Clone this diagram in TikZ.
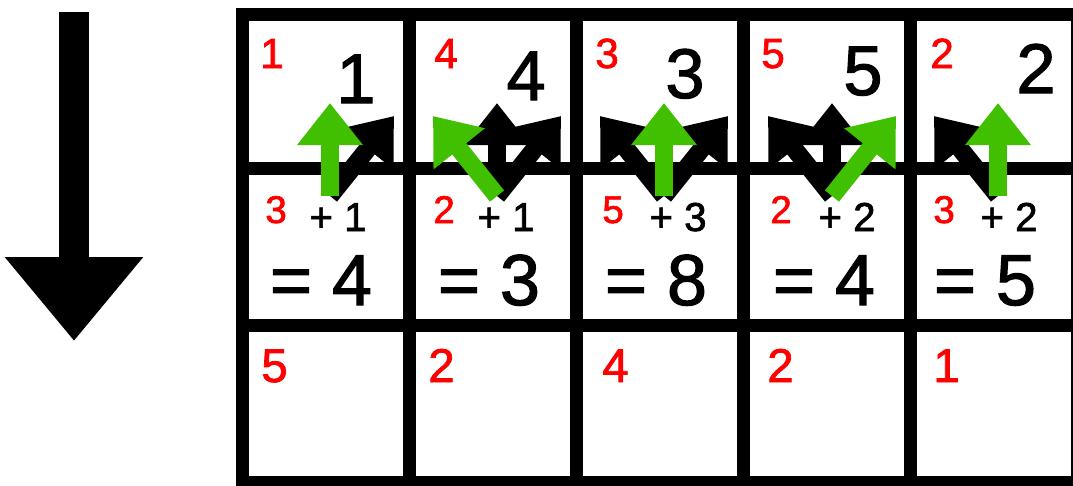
\documentclass[tikz,border=0pt]{standalone}
\usepackage{fontspec}
\setmainfont{Liberation Sans}
\newfontfamily\gridfont{Liberation Sans}[FakeBold=1.6]
\usetikzlibrary{arrows.meta}
\definecolor{pathgreen}{RGB}{64,192,0}
\definecolor{costred}{RGB}{255,0,0}

\begin{document}
\begin{tikzpicture}[
    x=0.02cm, y=-0.02cm,
    cell/.style={draw, line width=0.26cm, minimum width=3.34cm, inner sep=0pt, outer sep=0pt},
    toprow/.style={cell, minimum height=3.08cm},
    lowrow/.style={cell, minimum height=3.14cm},
    cost/.style={inner sep=0pt, anchor=base west, text=costred, font=\gridfont\fontsize{#1}{#1}\selectfont},
    height/.style={inner sep=0pt, anchor=base, font=\gridfont\fontsize{40}{40}\selectfont},
    plus/.style={inner sep=0pt, anchor=base, font=\gridfont\fontsize{23}{23}\selectfont},
    total/.style={inner sep=0pt, anchor=base, font=\gridfont\fontsize{41}{41}\selectfont},
    move/.style={draw, line width=0.36cm, -{Triangle[width=1.26cm, length=0.84cm]}},
    best/.style={move, color=pathgreen}
    ]
    \useasboundingbox (0,0) rectangle (1073,485);
    \clip (0,0) rectangle (1073,485);

    % direction of the rows
    \coordinate (flowtop) at (74,12);
    \coordinate (flowend) at (74,341);
    \draw [line width=0.6cm, -{Triangle[width=2.66cm, length=1.68cm]}] (flowtop) -- (flowend);

    % grid
    \node [toprow] (t1) at (326,91.5) {};
    \node [toprow] (t2) at (493,91.5) {};
    \node [toprow] (t3) at (660,91.5) {};
    \node [toprow] (t4) at (827,91.5) {};
    \node [toprow] (t5) at (994,91.5) {};
    \node [lowrow] (m1) at (326,247) {};
    \node [lowrow] (m2) at (493,247) {};
    \node [lowrow] (m3) at (660,247) {};
    \node [lowrow] (m4) at (827,247) {};
    \node [lowrow] (m5) at (994,247) {};
    \node [lowrow] (b1) at (326,404) {};
    \node [lowrow] (b2) at (493,404) {};
    \node [lowrow] (b3) at (660,404) {};
    \node [lowrow] (b4) at (827,404) {};
    \node [lowrow] (b5) at (994,404) {};

    % first row
    \node [cost=24] (tc1) at (260,68) {1};
    \node [cost=24] (tc2) at (434,68) {4};
    \node [cost=24] (tc3) at (595,68) {3};
    \node [cost=24] (tc4) at (761,68) {5};
    \node [cost=24] (tc5) at (930,68) {2};
    \node [height] (th1) at (356,103) {1};
    \node [height] (th2) at (526,100) {4};
    \node [height] (th3) at (685,98) {3};
    \node [height] (th4) at (863,95) {5};
    \node [height] (th5) at (1036,93) {2};

    % candidate moves
    \coordinate (from1) at (330,196);
    \coordinate (from2) at (497,196);
    \coordinate (from3) at (664,196);
    \coordinate (from4) at (832,196);
    \coordinate (from5) at (998,196);
    \draw [move] (from1) -- ++(64,-80);
    \draw [move] (from2) -- ++(0,-93);
    \draw [move] (from2) -- ++(64,-80);
    \draw [move] (from3) -- ++(-64,-80);
    \draw [move] (from3) -- ++(64,-80);
    \draw [move] (from4) -- ++(-64,-80);
    \draw [move] (from4) -- ++(0,-93);
    \draw [move] (from5) -- ++(-64,-80);
    \draw [best] (from1) -- ++(0,-93);
    \draw [best] (from2) -- ++(-64,-80);
    \draw [best] (from3) -- ++(0,-93);
    \draw [best] (from4) -- ++(64,-80);
    \draw [best] (from5) -- ++(0,-93);

    % second row
    \node [cost=22] (mc1) at (265,223) {3};
    \node [cost=22] (mc2) at (433,223) {2};
    \node [cost=22] (mc3) at (602,223) {5};
    \node [cost=22] (mc4) at (770,223) {2};
    \node [cost=22] (mc5) at (933,223) {3};
    \node [plus] (mp1) at (338,231) {+ 1};
    \node [plus] (mp2) at (506,231) {+ 1};
    \node [plus] (mp3) at (678,231) {+ 3};
    \node [plus] (mp4) at (847,231) {+ 2};
    \node [plus] (mp5) at (1009,231) {+ 2};
    \node [total] (ms1) at (321,305) {= 4};
    \node [total] (ms2) at (489,305) {= 3};
    \node [total] (ms3) at (656,305) {= 8};
    \node [total] (ms4) at (824,305) {= 4};
    \node [total] (ms5) at (985,305) {= 5};

    % third row
    \node [cost=27] (bc1) at (261,382) {5};
    \node [cost=27] (bc2) at (428,382) {2};
    \node [cost=27] (bc3) at (602,382) {4};
    \node [cost=27] (bc4) at (767,382) {2};
    \node [cost=27] (bc5) at (933,382) {1};
\end{tikzpicture}
\end{document}
